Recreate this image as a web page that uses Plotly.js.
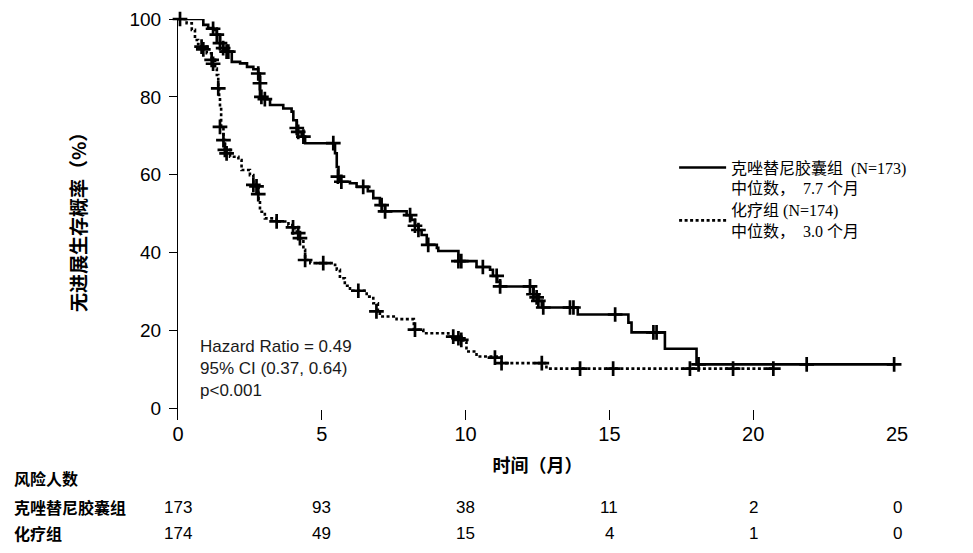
<!DOCTYPE html>
<html><head><meta charset="utf-8">
<script src="https://cdn.plot.ly/plotly-3.0.1.min.js"></script>
<style>html,body{margin:0;padding:0;background:#fff}#chart{width:973px;height:553px}</style>
</head><body><div id="chart"></div>
<script>
// Kaplan-Meier step points (time in months, survival %)
const crizTime = [0,0.88,1.05,1.23,1.35,1.46,1.57,1.63,1.87,2.16,2.40,2.62,2.79,2.85,3.02,3.20,3.66,3.95,4.01,4.13,4.30,4.42,5.46,5.52,5.58,5.63,5.98,6.21,6.60,6.79,7.02,7.20,7.95,8.12,8.24,8.36,8.47,8.65,9.00,9.05,9.75,10.38,10.85,10.95,11.10,11.20,12.36,12.53,12.65,13.90,15.66,15.77,16.93,18.03,24.90];
const crizSurv = [100,98.5,97.7,97.2,96.0,93.8,92.5,91.6,89.0,88.6,87.7,87.1,86.0,80.0,79.4,77.9,77.0,76.2,74.0,71.0,69.8,68.1,65.5,62.0,59.5,58.2,57.8,56.9,55.8,54.0,52.2,50.6,49.6,48.4,46.9,45.8,44.5,42.0,41.2,40.4,37.8,36.3,35.6,34.0,32.5,31.3,29.3,27.6,25.9,24.1,22.0,19.5,15.3,11.3,11.3];
const chemoTime = [0,0.30,0.48,0.59,0.70,0.82,1.00,1.17,1.29,1.35,1.40,1.43,1.46,1.50,1.58,1.63,1.81,2.10,2.21,2.50,2.62,2.80,2.85,3.02,3.43,3.84,4.07,4.24,4.36,4.42,4.60,5.46,5.52,5.63,5.80,5.98,6.56,6.79,6.95,7.02,7.60,8.20,8.53,9.40,9.92,10.03,10.38,11.25,12.81,20.70];
const chemoSurv = [100,98.9,97.2,94.6,93.5,92.9,91.2,89.5,87.3,85.6,82.2,80.0,77.5,72.3,68.9,66.4,64.6,63.8,61.2,59.9,57.4,53.5,50.5,48.8,48.0,47.1,45.4,43.7,40.7,38.1,37.3,36.8,35.6,33.4,31.5,30.2,28.7,27.0,24.9,23.6,22.9,20.2,19.3,18.4,17.1,14.6,13.3,11.6,10.2,10.2];
// Censored observations
const crizCensorTime = [0.07,1.22,1.35,1.46,1.57,1.69,1.75,2.79,2.85,2.90,3.02,4.13,4.18,4.36,5.40,5.56,5.68,6.44,7.08,7.20,8.07,8.24,8.36,8.70,9.75,9.85,10.60,11.08,11.20,12.24,12.36,12.47,12.53,12.70,13.63,13.75,15.20,16.53,16.64,18.10,21.86,24.90];
const crizCensorSurv = [100,97.5,96.0,93.8,92.5,91.6,91.6,86.0,83.5,80.0,79.4,72.0,71.0,69.8,68.1,59.5,58.2,56.9,52.2,50.6,49.6,46.9,45.8,42.0,37.8,37.8,36.3,34.0,31.3,31.3,29.3,28.5,27.6,25.9,25.9,25.9,24.1,19.5,19.5,11.3,11.3,11.3];
const chemoCensorTime = [0.82,0.88,1.17,1.22,1.40,1.46,1.58,1.63,1.69,2.62,2.73,2.79,3.43,4.00,4.18,4.24,4.42,5.05,6.27,6.90,8.24,9.57,9.75,9.85,11.02,11.25,12.65,13.98,15.13,17.80,19.30,20.70];
const chemoCensorSurv = [92.9,92.2,89.5,88.5,82.2,72.3,68.9,66.4,65.5,57.4,57.0,55.0,48.0,46.5,45.0,43.7,38.1,37.3,30.2,24.9,20.2,18.4,18.0,17.6,13.0,11.6,11.6,10.2,10.2,10.2,10.2,10.2];
// Axis ticks and risk table
const xTicks = [0,5,10,15,20,25];
const yTicks = [0,20,40,60,80,100];
const riskTimes = [0,5,10,15,20,25];
const riskCriz = [173,93,38,11,2,0];
const riskChemo = [174,49,15,4,1,0];
const groupCriz = '克唑替尼胶囊组';
const groupChemo = '化疗组';

const NB = '\u00A0';
const sans = 'Liberation Sans, Arial, sans-serif';
const cjk = 'Noto Sans CJK SC, sans-serif';
const serif = 'Liberation Serif, Noto Sans CJK SC, serif';

const traces = [
  {x: crizTime, y: crizSurv, mode: 'lines', line: {shape: 'hv', color: '#000', width: 2.6},
   name: groupCriz + NB + NB + '(N=173)<br>中位数，' + NB + NB + '7.7 个月', legend: 'legend', cliponaxis: false},
  {x: chemoTime, y: chemoSurv, mode: 'lines', line: {shape: 'hv', color: '#000', width: 2.6, dash: '3px,2.5px'},
   name: groupChemo + NB + '(N=174)<br>中位数，' + NB + NB + '3.0 个月', legend: 'legend2', cliponaxis: false},
  {x: crizCensorTime, y: crizCensorSurv, mode: 'markers', showlegend: false, cliponaxis: false,
   marker: {symbol: 'cross-thin', size: 10.5, color: '#000', line: {color: '#000', width: 2.7}}},
  {x: chemoCensorTime, y: chemoCensorSurv, mode: 'markers', showlegend: false, cliponaxis: false,
   marker: {symbol: 'cross-thin', size: 10.5, color: '#000', line: {color: '#000', width: 2.7}}}
];

const annotations = [
  {xref: 'paper', yref: 'paper', x: -0.1405, y: 0.506, xanchor: 'center', yanchor: 'middle', textangle: -90, showarrow: false,
   text: '无进展生存概率（%）', font: {family: cjk, size: 19, color: '#000', weight: 'bold'}},
  {xref: 'x', yref: 'y', x: 0.7, y: 18.8, xanchor: 'left', yanchor: 'top', align: 'left', showarrow: false,
   text: 'Hazard Ratio = 0.49<br>95% CI (0.37, 0.64)<br>p&lt;0.001', font: {family: sans, size: 17, color: '#1a1a1a'}},
  {xref: 'paper', yref: 'paper', x: -0.2309, y: -0.1446, xanchor: 'left', yanchor: 'middle', showarrow: false,
   text: '风险人数', font: {family: cjk, size: 16, color: '#000', weight: 'bold'}},
  {xref: 'paper', yref: 'paper', x: -0.2309, y: -0.217, xanchor: 'left', yanchor: 'middle', showarrow: false,
   text: groupCriz, font: {family: cjk, size: 16, color: '#000', weight: 'bold'}},
  {xref: 'paper', yref: 'paper', x: -0.2309, y: -0.282, xanchor: 'left', yanchor: 'middle', showarrow: false,
   text: groupChemo, font: {family: cjk, size: 16, color: '#000', weight: 'bold'}}
];
riskTimes.forEach((t, i) => {
  annotations.push({xref: 'x', yref: 'paper', x: t, y: -0.217, xanchor: 'center', yanchor: 'middle', showarrow: false,
    text: String(riskCriz[i]), font: {family: 'Liberation Sans Narrow, ' + sans, size: 17, color: '#000'}});
  annotations.push({xref: 'x', yref: 'paper', x: t, y: -0.282, xanchor: 'center', yanchor: 'middle', showarrow: false,
    text: String(riskChemo[i]), font: {family: 'Liberation Sans Narrow, ' + sans, size: 17, color: '#000'}});
});

const legendBase = {xanchor: 'left', yanchor: 'top', bgcolor: 'rgba(0,0,0,0)', borderwidth: 0,
  font: {family: serif, size: 16, color: '#000'}, itemwidth: 47, tracegroupgap: 0};

const layout = {
  width: 973, height: 553,
  margin: {l: 178, r: 76, t: 19, b: 133},
  paper_bgcolor: '#fff', plot_bgcolor: '#fff',
  showlegend: true,
  legend: Object.assign({}, legendBase, {x: 0.69, y: 0.672, valign: 'top'}),
  legend2: Object.assign({}, legendBase, {x: 0.69, y: 0.566, valign: 'middle'}),
  xaxis: {range: [0, 25], tickvals: xTicks, ticktext: xTicks.map(String), ticks: 'inside', ticklen: 10, tickwidth: 1,
    tickcolor: '#000', showline: false, zeroline: false, showgrid: false,
    tickfont: {family: sans, size: 20, color: '#000'},
    title: {text: '时间（月）', font: {family: cjk, size: 18, color: '#000', weight: 'bold'}, standoff: 15}},
  yaxis: {range: [-3, 100], tickvals: yTicks, ticktext: yTicks.map(String), ticks: 'outside', ticklen: 8, tickwidth: 1,
    tickcolor: '#000', showline: true, linecolor: '#000', linewidth: 1, zeroline: false, showgrid: false,
    tickfont: {family: sans, size: 19, color: '#000'}, ticklabelstandoff: 4},
  annotations: annotations
};

Plotly.newPlot('chart', traces, layout, {displayModeBar: false, staticPlot: true});
</script>
</body></html>
